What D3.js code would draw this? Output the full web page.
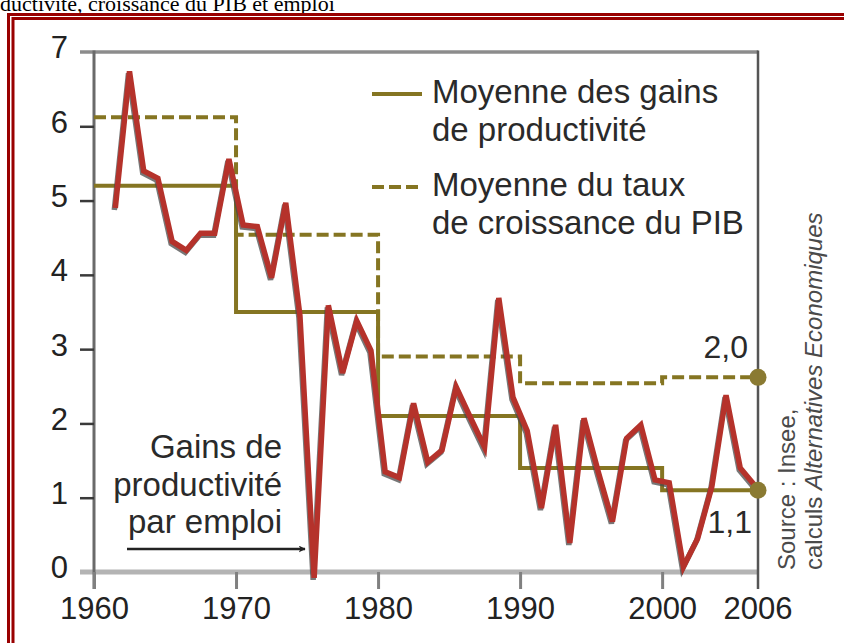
<!DOCTYPE html>
<html>
<head>
<meta charset="utf-8">
<script src="https://cdn.jsdelivr.net/npm/d3@7"></script>
<style>
  body { margin: 0; background: #fff; }
  svg { display: block; }
  text { font-family: "Liberation Sans", Arial, sans-serif; }
</style>
</head>
<body>
<div id="chart"></div>
<script>
// Productivité, croissance du PIB et emploi (1960-2006)

const WIDTH = 844;
const HEIGHT = 643;
const PLOT = { left: 94, right: 758, top: 52, bottom: 572 };
const X_END = 2006.75; // the right frame line sits a bit after 2006

// gains de productivité par emploi, % par an
const years = d3.range(1961, 2007);
const productivity = [
  4.9, 6.74, 5.4, 5.3, 4.45, 4.33, 4.56, 4.56, 5.56,      // 1961-1969
  4.67, 4.65, 3.96, 4.97, 3.45, -0.08, 3.59, 2.68, 3.38, 2.98, // 1970-1979
  1.35, 1.27, 2.27, 1.48, 1.64, 2.49, 2.08, 1.68, 3.69, 2.35, // 1980-1989
  1.9, 0.86, 1.98, 0.39, 2.07, 1.35, 0.68, 1.8, 1.98, 1.24,   // 1990-1999
  1.2, 0.07, 0.45, 1.15, 2.38, 1.4, 1.17                      // 2000-2006
];

// moyennes par période
const periodStarts = [1960, 1970, 1980, 1990, 2000];
const meanProductivity = [5.2, 3.5, 2.1, 1.4, 1.1];
const meanGdp = [6.12, 4.54, 2.9, 2.54, 2.62];
const endLabels = ['2,0', '1,1'];

const yTicks = [0, 1, 2, 3, 4, 5, 6, 7];
const xTicks = [1960, 1970, 1980, 1990, 2000];
const lastYearLabel = '2006';

const RED = '#b5322b';
const OLIVE = '#857522';
const FRAME = '#990000';

const svg = d3.select('#chart')
  .append('svg')
  .attr('width', WIDTH)
  .attr('height', HEIGHT);

const x = d3.scaleLinear().domain([1960, X_END]).range([PLOT.left, PLOT.right]);
const y = d3.scaleLinear().domain([0, 7]).range([PLOT.bottom, PLOT.top]);

// title, its top is cut by the page edge
svg.append('text')
  .attr('x', 0)
  .attr('y', 11)
  .style('font-family', '"Liberation Serif", "Times New Roman", serif')
  .style('font-size', '22px')
  .attr('fill', '#000')
  .text('ductivité, croissance du PIB et emploi');

// double red frame
svg.append('rect')
  .attr('x', 8.5).attr('y', 14.5)
  .attr('width', 900).attr('height', 700)
  .attr('fill', 'none').attr('stroke', FRAME).attr('stroke-width', 3);
svg.append('rect')
  .attr('x', 13).attr('y', 18.5)
  .attr('width', 900).attr('height', 700)
  .attr('fill', 'none').attr('stroke', FRAME).attr('stroke-width', 3);

// frame lines of the plot
const grid = svg.append('g');
grid.append('line')
  .attr('x1', PLOT.left - 14).attr('x2', PLOT.right)
  .attr('y1', y(7)).attr('y2', y(7))
  .attr('stroke', '#8c8c8c').attr('stroke-width', 3.5);
grid.append('line')
  .attr('x1', PLOT.left - 14).attr('x2', PLOT.right)
  .attr('y1', y(0)).attr('y2', y(0))
  .attr('stroke', '#b4b4b4').attr('stroke-width', 5);
grid.selectAll('.vline')
  .data([PLOT.left, PLOT.right])
  .enter()
  .append('line')
  .attr('class', 'vline')
  .attr('x1', d => d).attr('x2', d => d)
  .attr('y1', y(7) - 1.5).attr('y2', y(0) + 17)
  .attr('stroke', (d, i) => i ? '#555' : '#6a6a6a')
  .attr('stroke-width', (d, i) => i ? 2.5 : 3);

// y axis
const yAxis = svg.append('g')
  .attr('transform', `translate(${PLOT.left},0)`)
  .call(d3.axisLeft(y).tickValues(yTicks).tickSize(14).tickPadding(12).tickFormat(d3.format('d')));
yAxis.select('.domain').remove();
yAxis.selectAll('.tick line')
  .attr('stroke', '#3a3a3a').attr('stroke-width', 2.5)
  .filter(d => d === 0 || d === 7).remove();
yAxis.selectAll('.tick text')
  .attr('dy', '0.19em')
  .attr('fill', '#222')
  .style('font-size', '31px');

// x axis
const xAxis = svg.append('g')
  .attr('transform', `translate(0,${PLOT.bottom})`)
  .call(d3.axisBottom(x).tickValues(xTicks).tickSize(17).tickPadding(8).tickFormat(d3.format('d')));
xAxis.select('.domain').remove();
xAxis.selectAll('.tick line')
  .attr('stroke', '#808080').attr('stroke-width', 3);
xAxis.selectAll('.tick text')
  .attr('fill', '#222')
  .style('font-size', '31px');
xAxis.append('text')
  .attr('x', PLOT.right)
  .attr('y', 25)
  .attr('dy', '0.71em')
  .attr('text-anchor', 'middle')
  .attr('fill', '#222')
  .style('font-size', '31px')
  .text(lastYearLabel);

// period means as steps
const stepPoints = means => periodStarts.map((p, i) => [p, means[i]])
  .concat([[X_END, means[means.length - 1]]]);
const stepLine = d3.line()
  .x(d => x(d[0]))
  .y(d => y(d[1]))
  .curve(d3.curveStepAfter);

svg.append('path')
  .attr('d', stepLine(stepPoints(meanGdp)))
  .attr('fill', 'none')
  .attr('stroke', OLIVE)
  .attr('stroke-width', 4)
  .attr('stroke-dasharray', '12,5');
svg.append('path')
  .attr('d', stepLine(stepPoints(meanProductivity)))
  .attr('fill', 'none')
  .attr('stroke', OLIVE)
  .attr('stroke-width', 4);

// productivity gains, plotted at mid-year
const series = years.map((yr, i) => ({ year: yr, value: productivity[i] }));
const gainLine = d3.line()
  .x(d => x(d.year + 0.5))
  .y(d => y(d.value));

svg.append('path')
  .attr('d', gainLine(series))
  .attr('transform', 'translate(-1,2)')
  .attr('fill', 'none')
  .attr('stroke', '#4a4a4a')
  .attr('stroke-opacity', 0.75)
  .attr('stroke-width', 5.5);
svg.append('path')
  .attr('d', gainLine(series))
  .attr('fill', 'none')
  .attr('stroke', RED)
  .attr('stroke-width', 5.5);

// end dots and labels
const lastMeans = [meanGdp[meanGdp.length - 1], meanProductivity[meanProductivity.length - 1]];
svg.selectAll('.end-dot')
  .data(lastMeans)
  .enter()
  .append('circle')
  .attr('class', 'end-dot')
  .attr('cx', x(X_END))
  .attr('cy', d => y(d))
  .attr('r', 8.5)
  .attr('fill', '#8a7a32');

svg.selectAll('.end-label')
  .data(lastMeans)
  .enter()
  .append('text')
  .attr('class', 'end-label')
  .attr('x', (d, i) => x(X_END) - (i ? 6 : 10))
  .attr('y', (d, i) => y(d) + (i ? 43 : -19))
  .attr('text-anchor', 'end')
  .attr('fill', '#2a2a2a')
  .style('font-size', '32px')
  .text((d, i) => endLabels[i]);

// legend
const legend = svg.append('g');
const legendItems = [
  { dash: null, lines: ['Moyenne des gains', 'de productivité'], y: 94 },
  { dash: '12,5', lines: ['Moyenne du taux', 'de croissance du PIB'], y: 187 }
];
legendItems.forEach(item => {
  legend.append('line')
    .attr('x1', 372).attr('x2', 422)
    .attr('y1', item.y).attr('y2', item.y)
    .attr('stroke', OLIVE)
    .attr('stroke-width', 4)
    .attr('stroke-dasharray', item.dash);
  legend.append('text')
    .attr('x', 432)
    .attr('y', item.y + 9)
    .attr('fill', '#2a2a2a')
    .style('font-size', '33px')
    .selectAll('tspan')
    .data(item.lines)
    .enter()
    .append('tspan')
    .attr('x', 432)
    .attr('dy', (d, i) => i ? 37.5 : 0)
    .text(d => d);
});

// annotation
svg.append('defs')
  .append('marker')
  .attr('id', 'arrow')
  .attr('viewBox', '0 0 10 10')
  .attr('refX', 9)
  .attr('refY', 5)
  .attr('markerWidth', 7)
  .attr('markerHeight', 7)
  .attr('markerUnits', 'userSpaceOnUse')
  .attr('orient', 'auto')
  .append('path')
  .attr('d', 'M0,0 L10,5 L0,10 L2.5,5 Z')
  .attr('fill', '#222');

svg.append('text')
  .attr('text-anchor', 'end')
  .attr('fill', '#2a2a2a')
  .style('font-size', '33px')
  .selectAll('tspan')
  .data(['Gains de', 'productivité', 'par emploi'])
  .enter()
  .append('tspan')
  .attr('x', 282)
  .attr('y', (d, i) => 458 + i * 37.5)
  .text(d => d);

svg.append('line')
  .attr('x1', 127).attr('x2', 305)
  .attr('y1', 549).attr('y2', 549)
  .attr('stroke', '#222')
  .attr('stroke-width', 2.5)
  .attr('marker-end', 'url(#arrow)');

// source
const source = svg.append('g').attr('fill', '#4a4a4a').style('font-size', '24px');
source.append('text')
  .attr('transform', 'translate(795,570) rotate(-90)')
  .text('Source : Insee,');
const src2 = source.append('text')
  .attr('transform', 'translate(822,570) rotate(-90)');
src2.append('tspan').text('calculs ');
src2.append('tspan').style('font-style', 'italic').text('Alternatives Economiques');
</script>
</body>
</html>
